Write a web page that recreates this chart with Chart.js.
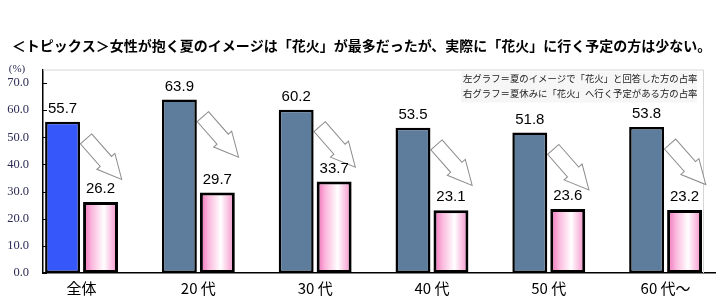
<!DOCTYPE html>
<html lang="ja">
<head>
<meta charset="UTF-8">
<title>夏のイメージと花火</title>
<style>
    html, body { margin: 0; padding: 0; background: #fff; }
    .wrap { width: 717px; height: 298px; }
</style>
<script src="https://cdn.jsdelivr.net/npm/chart.js"></script>
</head>
<body>
<div class="wrap"><canvas id="chart"></canvas></div>
<script>
    // data
    const categories = ['全体', '20 代', '30 代', '40 代', '50 代', '60 代～'];
    const imageValues = [55.7, 63.9, 60.2, 53.5, 51.8, 53.8];   // 夏のイメージで「花火」
    const planValues = [26.2, 29.7, 33.7, 23.1, 23.6, 23.2];    // 「花火」へ行く予定
    const yTicks = [0, 10, 20, 30, 40, 50, 60, 70];
    const legendLines = [
        '左グラフ＝夏のイメージで「花火」と回答した方の占率',
        '右グラフ＝夏休みに「花火」へ行く予定がある方の占率'
    ];
    const titleText = '＜トピックス＞女性が抱く夏のイメージは「花火」が最多だったが、実際に「花火」に行く予定の方は少ない。';

    const CAT_PCT = 0.65;
    const BAR_PCT = 0.92;
    const X_MIN = -0.33, X_FRAME = 5.32, X_MAX = 5.423;
    const PINK = '#f27fc2';

    // horizontal pink-white-pink fill for the right bars
    function pinkFill(c) {
        if (c.type !== 'data' || !c.chart.scales.x) return PINK;
        const x = c.chart.scales.x;
        const step = x.getPixelForValue(1) - x.getPixelForValue(0);
        const slot = step * CAT_PCT / 2;
        const w = slot * BAR_PCT;
        const center = x.getPixelForValue(c.dataIndex) + slot / 2;
        if (!isFinite(center) || !isFinite(w) || w <= 0) return PINK;
        const g = c.chart.ctx.createLinearGradient(center - w / 2, 0, center + w / 2, 0);
        g.addColorStop(0, '#f06ab8');
        g.addColorStop(0.25, '#fbb8dd');
        g.addColorStop(0.6, '#ffffff');
        g.addColorStop(1, '#f58cc8');
        return g;
    }

    function drawArrow(ctx, x0, y0) {
        const ang = Math.atan2(40.3, 35.5);
        const L = 54, shaft = 30, hw = 7.5, hh = 12;
        ctx.save();
        ctx.translate(x0, y0);
        ctx.rotate(ang);
        ctx.beginPath();
        ctx.moveTo(0, -hw);
        ctx.lineTo(shaft, -hw);
        ctx.lineTo(shaft, -hh);
        ctx.lineTo(L, 0);
        ctx.lineTo(shaft, hh);
        ctx.lineTo(shaft, hw);
        ctx.lineTo(0, hw);
        ctx.closePath();
        ctx.fillStyle = '#fff';
        ctx.fill();
        ctx.strokeStyle = '#8c8c8c';
        ctx.lineWidth = 1;
        ctx.stroke();
        ctx.restore();
    }

    const decor = {
        id: 'decor',
        beforeDatasetsDraw(chart) {
            const { ctx, chartArea: a } = chart;
            const frameRight = Math.round(chart.scales.x.getPixelForValue(X_FRAME)) + 0.5;
            ctx.save();
            // title
            ctx.fillStyle = '#000';
            ctx.font = 'bold 14px "Noto Sans CJK JP"';
            ctx.textAlign = 'center';
            ctx.textBaseline = 'middle';
            ctx.fillText(titleText, 361.5, 46);
            // light frame of the plot area
            ctx.strokeStyle = '#d6d6d6';
            ctx.lineWidth = 1;
            ctx.beginPath();
            ctx.moveTo(a.left, a.top + 0.5);
            ctx.lineTo(frameRight, a.top + 0.5);
            ctx.lineTo(frameRight, a.bottom);
            ctx.stroke();
            // short inward ticks on the value axis
            ctx.strokeStyle = '#000';
            yTicks.forEach(v => {
                const y = Math.round(chart.scales.y.getPixelForValue(v)) + 0.5;
                ctx.beginPath();
                ctx.moveTo(a.left, y);
                ctx.lineTo(a.left + 4, y);
                ctx.stroke();
            });
            // note box
            ctx.fillStyle = '#f6f6f6';
            ctx.fillRect(461, a.top + 2, 236, 31);
            ctx.fillStyle = '#222';
            ctx.font = '9.4px "Noto Sans CJK JP"';
            ctx.textAlign = 'left';
            ctx.fillText(legendLines[0], 463, a.top + 9);
            ctx.fillText(legendLines[1], 463, a.top + 24);
            ctx.restore();
            // arrows from left bar to right bar
            const meta = chart.getDatasetMeta(0);
            meta.data.forEach(bar => {
                drawArrow(ctx, bar.x + bar.width / 2 + 6, bar.y + 17);
            });
        },
        afterDatasetsDraw(chart) {
            const { ctx } = chart;
            ctx.save();
            ctx.fillStyle = '#000';
            ctx.font = '15px "Liberation Sans"';
            ctx.textAlign = 'center';
            ctx.textBaseline = 'middle';
            chart.data.datasets.forEach((ds, di) => {
                chart.getDatasetMeta(di).data.forEach((bar, i) => {
                    ctx.fillText(ds.data[i].y.toFixed(1), bar.x, bar.y - 13);
                });
            });
            ctx.fillStyle = '#2b2b55';
            ctx.font = '11px "Liberation Serif"';
            ctx.fillText('(%)', 17, chart.chartArea.top);
            ctx.restore();
        }
    };

    new Chart(document.getElementById('chart'), {
        type: 'bar',
        data: {
            datasets: [{
                label: legendLines[0],
                data: imageValues.map((v, i) => ({ x: i, y: v })),
                backgroundColor: imageValues.map((v, i) => i === 0 ? '#3658fb' : '#5e7c9b'),
                borderColor: '#000',
                borderWidth: 2.5,
                borderSkipped: false,
                categoryPercentage: CAT_PCT,
                barPercentage: BAR_PCT
            }, {
                label: legendLines[1],
                data: planValues.map((v, i) => ({ x: i, y: v })),
                backgroundColor: pinkFill,
                borderColor: '#000',
                borderWidth: 3,
                borderSkipped: false,
                categoryPercentage: CAT_PCT,
                barPercentage: BAR_PCT
            }]
        },
        options: {
            responsive: true,
            maintainAspectRatio: false,
            animation: false,
            layout: { padding: { left: 2, right: 2, top: 69.5, bottom: -5 } },
            scales: {
                x: {
                    type: 'linear',
                    offset: false,
                    min: X_MIN,
                    max: X_MAX,
                    afterBuildTicks: s => { s.ticks = categories.map((_, i) => ({ value: i })); },
                    ticks: {
                        callback: v => categories[v],
                        autoSkip: false,
                        maxRotation: 0,
                        padding: 6,
                        color: '#000',
                        font: { family: '"Noto Sans CJK JP"', size: 15 }
                    },
                    grid: { display: false, drawTicks: false, offset: false },
                    border: { color: '#000', width: 1.5 }
                },
                y: {
                    min: 0,
                    max: 75,
                    afterBuildTicks: s => { s.ticks = yTicks.map(v => ({ value: v })); },
                    afterFit: s => { s.width = 41; },
                    ticks: {
                        callback: v => v.toFixed(1),
                        padding: 14,
                        color: '#2b2b55',
                        font: { family: '"Liberation Serif"', size: 12.5 }
                    },
                    grid: { display: false, drawTicks: false },
                    border: { color: '#000', width: 1.5 }
                }
            },
            plugins: {
                legend: { display: false },
                tooltip: { enabled: false },
                title: { display: false }
            }
        },
        plugins: [decor]
    });
</script>
</body>
</html>
